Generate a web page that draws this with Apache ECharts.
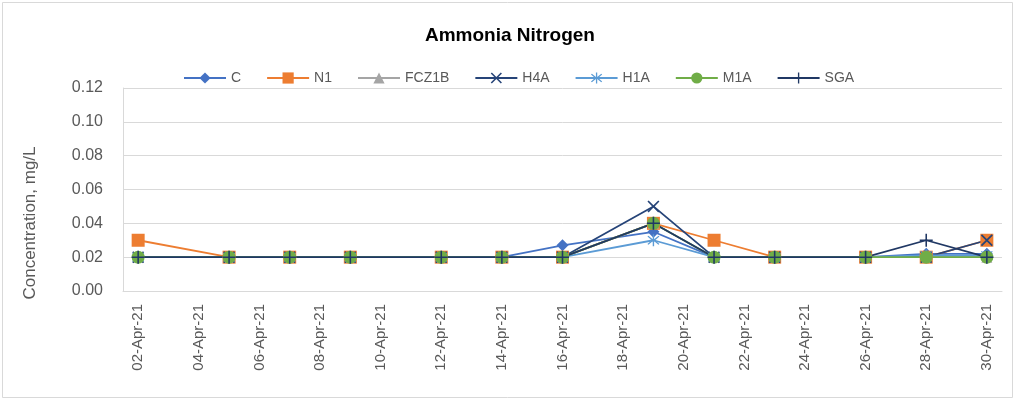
<!DOCTYPE html>
<html>
<head>
<meta charset="utf-8">
<script src="https://cdn.jsdelivr.net/npm/echarts@6/dist/echarts.min.js"></script>
<style>
  html, body { margin: 0; padding: 0; background: #fff; }
  #chart { width: 1017px; height: 401px; }
</style>
</head>
<body>
<div id="chart"></div>
<script>
// x axis: every day, label shown every other day
let dayLabels = [
  '02-Apr-21', '03-Apr-21', '04-Apr-21', '05-Apr-21', '06-Apr-21', '07-Apr-21',
  '08-Apr-21', '09-Apr-21', '10-Apr-21', '11-Apr-21', '12-Apr-21', '13-Apr-21',
  '14-Apr-21', '15-Apr-21', '16-Apr-21', '17-Apr-21', '18-Apr-21', '19-Apr-21',
  '20-Apr-21', '21-Apr-21', '22-Apr-21', '23-Apr-21', '24-Apr-21', '25-Apr-21',
  '26-Apr-21', '27-Apr-21', '28-Apr-21', '29-Apr-21', '30-Apr-21'
];
// sampling dates
let sampleDates = [
  '02-Apr-21', '05-Apr-21', '07-Apr-21', '09-Apr-21', '12-Apr-21', '14-Apr-21',
  '16-Apr-21', '19-Apr-21', '21-Apr-21', '23-Apr-21', '26-Apr-21', '28-Apr-21', '30-Apr-21'
];
let seriesNames = ['C', 'N1', 'FCZ1B', 'H4A', 'H1A', 'M1A', 'SGA'];
let valC     = [0.02, 0.02, 0.02, 0.02, 0.02, 0.02, 0.027, 0.035, 0.02, 0.02, 0.02, 0.022, 0.022];
let valN1    = [0.03, 0.02, 0.02, 0.02, 0.02, 0.02, 0.02, 0.04, 0.03, 0.02, 0.02, 0.02, 0.03];
let valFCZ1B = [0.02, 0.02, 0.02, 0.02, 0.02, 0.02, 0.02, 0.04, 0.02, 0.02, 0.02, 0.02, 0.02];
let valH4A   = [0.02, 0.02, 0.02, 0.02, 0.02, 0.02, 0.02, 0.05, 0.02, 0.02, 0.02, 0.02, 0.03];
let valH1A   = [0.02, 0.02, 0.02, 0.02, 0.02, 0.02, 0.02, 0.03, 0.02, 0.02, 0.02, 0.021, 0.021];
let valM1A   = [0.02, 0.02, 0.02, 0.02, 0.02, 0.02, 0.02, 0.04, 0.02, 0.02, 0.02, 0.02, 0.02];
let valSGA   = [0.02, 0.02, 0.02, 0.02, 0.02, 0.02, 0.02, 0.04, 0.02, 0.02, 0.02, 0.03, 0.02];
let yTicks = [0, 0.02, 0.04, 0.06, 0.08, 0.10, 0.12];

let FONT = 'Liberation Sans';
let crossPath = 'path://M0,1 L1,0 L5,4 L9,0 L10,1 L6,5 L10,9 L9,10 L5,6 L1,10 L0,9 L4,5 Z';
let plusPath = 'path://M4.4,0 H5.6 V4.4 H10 V5.6 H5.6 V10 H4.4 V5.6 H0 V4.4 H4.4 Z';
let starPath = 'path://M4.5,0 H5.5 V4.2 L8.6,1.2 L9.3,1.9 L6.2,5 L9.3,8.1 L8.6,8.8 L5.5,5.8 V10 H4.5 V5.8 L1.4,8.8 L0.7,8.1 L3.8,5 L0.7,1.9 L1.4,1.2 L4.5,4.2 Z';

let styles = {
  C:     {color: '#4472C4', symbol: 'diamond', size: 12},
  N1:    {color: '#ED7D31', symbol: 'rect', size: 13},
  FCZ1B: {color: '#A5A5A5', symbol: 'triangle', size: 11},
  H4A:   {color: '#264478', symbol: crossPath, size: 12},
  H1A:   {color: '#5B9BD5', symbol: starPath, size: 12},
  M1A:   {color: '#70AD47', symbol: 'circle', size: 13},
  SGA:   {color: '#203864', symbol: plusPath, size: 13}
};
let values = {C: valC, N1: valN1, FCZ1B: valFCZ1B, H4A: valH4A, H1A: valH1A, M1A: valM1A, SGA: valSGA};

let series = [];
for (let i = 0; i < seriesNames.length; i++) {
  let name = seriesNames[i];
  let st = styles[name];
  let data = [];
  for (let j = 0; j < sampleDates.length; j++) {
    data.push([sampleDates[j], values[name][j]]);
  }
  series.push({
    name: name,
    type: 'line',
    data: data,
    symbol: st.symbol,
    symbolSize: st.size,
    showAllSymbol: true,
    color: st.color,
    lineStyle: {width: 1.8, color: st.color},
    itemStyle: {color: st.color, borderWidth: 0},
    emphasis: {disabled: true},
    animation: false
  });
}

let myChart = echarts.init(document.getElementById('chart'));
let option = {
  backgroundColor: '#fff',
  animation: false,
  title: {
    text: 'Ammonia Nitrogen',
    left: 420,
    top: 21,
    textStyle: {
      fontFamily: FONT,
      fontSize: 19,
      fontWeight: 'bold',
      color: '#000'
    }
  },
  legend: {
    data: seriesNames,
    left: 183,
    top: 71,
    padding: 0,
    itemWidth: 42,
    itemHeight: 14,
    itemGap: 25,
    textStyle: {fontFamily: FONT, fontSize: 14, color: '#595959'}
  },
  grid: {
    left: 123,
    right: 15,
    top: 88,
    bottom: 110,
    containLabel: false
  },
  xAxis: {
    type: 'category',
    data: dayLabels,
    boundaryGap: true,
    axisLine: {lineStyle: {color: '#D9D9D9', width: 1}},
    axisTick: {show: false},
    axisLabel: {
      interval: 1,
      rotate: 90,
      margin: 13,
      fontFamily: FONT,
      fontSize: 15,
      color: '#595959'
    },
    splitLine: {show: false}
  },
  yAxis: {
    type: 'value',
    min: yTicks[0],
    max: yTicks[yTicks.length - 1],
    interval: 0.02,
    axisLine: {show: true, lineStyle: {color: '#D9D9D9'}},
    axisTick: {show: false},
    axisLabel: {
      margin: 20,
      fontFamily: FONT,
      fontSize: 16,
      color: '#595959',
      formatter: function (v) { return v.toFixed(2); }
    },
    splitLine: {lineStyle: {color: '#D9D9D9', width: 1}}
  },
  graphic: [
    {
      type: 'rect',
      shape: {x: 2.5, y: 2.5, width: 1010, height: 395},
      style: {fill: 'none', stroke: '#D9D9D9', lineWidth: 1},
      silent: true
    },
    {
      type: 'text',
      x: 30,
      y: 223,
      rotation: Math.PI / 2,
      style: {
        text: 'Concentration, mg/L',
        fontFamily: FONT,
        fontSize: 17,
        fill: '#595959',
        align: 'center',
        verticalAlign: 'middle'
      },
      silent: true
    }
  ],
  series: series
};
myChart.setOption(option);
</script>
</body>
</html>
